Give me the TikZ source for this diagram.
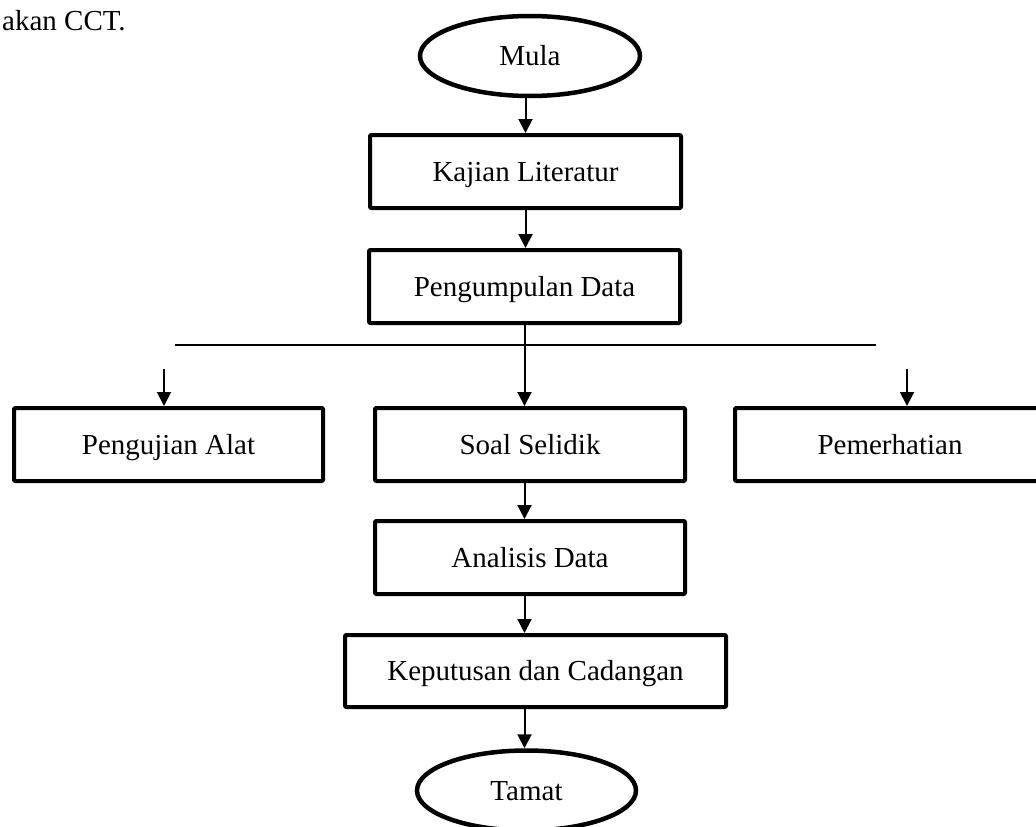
\documentclass[tikz,border=0pt]{standalone}
\usepackage{fontspec}
\setmainfont{Liberation Serif}
\usetikzlibrary{shapes.geometric,arrows.meta}
\tikzset{
  every node/.style={font=\fontsize{29}{34}\selectfont, inner sep=0pt, text height=19.2pt, text depth=0pt},
  stepbox/.style={draw, line width=4pt, rectangle, line join=round, rounded corners=1pt, minimum height=73pt},
  terminal/.style={draw, line width=4.5pt, ellipse, minimum width=220pt, minimum height=80pt},
  arr/.style={line width=2pt, -{Triangle[length=14pt,width=14pt]}},
  rule/.style={line width=1.3pt}
}
\begin{document}
\begin{tikzpicture}[x=1pt,y=-1pt]
\clip (0,0) rectangle (1036,827);
\fill[white] (0,0) rectangle (1036,827);
\node[anchor=base west, text height=, text depth=] (cap) at (2,30) {akan CCT.};
\node[terminal] (mula) at (530,56) {Mula};
\node[stepbox, minimum width=311pt] (kajian) at (525.5,171.5) {Kajian Literatur};
\node[stepbox, minimum width=311pt] (peng) at (524.5,286.5) {Pengumpulan Data};
\node[stepbox, minimum width=309pt] (uji) at (168.5,444.5) {Pengujian Alat};
\node[stepbox, minimum width=310pt] (soal) at (530,444.5) {Soal Selidik};
\node[stepbox, minimum width=310pt] (perhati) at (890,444.5) {Pemerhatian};
\node[stepbox, minimum width=310pt] (analisis) at (530,557.5) {Analisis Data};
\node[stepbox, minimum width=381pt, minimum height=72pt] (keputusan) at (535.5,671) {Keputusan dan Cadangan};
\node[terminal, minimum width=219pt] (tamat) at (526.5,790.5) {Tamat};
\coordinate (hl) at (175,345);
\coordinate (hr) at (876,345);
\coordinate (ua) at (164,369);
\coordinate (pa) at (907,369);
\draw[rule] (hl) -- (hr);
\draw[arr] (mula.south -| kajian.north) -- (kajian.north);
\draw[arr] (kajian.south) -- (kajian.south |- peng.north);
\draw[arr] (peng.south) -- (peng.south |- soal.north);
\draw[arr] (ua) -- (ua |- uji.north);
\draw[arr] (pa) -- (pa |- perhati.north);
\draw[arr] (soal.south -| peng.south) -- (analisis.north -| peng.south);
\draw[arr] (analisis.south -| peng.south) -- (keputusan.north -| peng.south);
\draw[arr] (keputusan.south -| peng.south) -- (tamat.north -| peng.south);
\end{tikzpicture}
\end{document}
